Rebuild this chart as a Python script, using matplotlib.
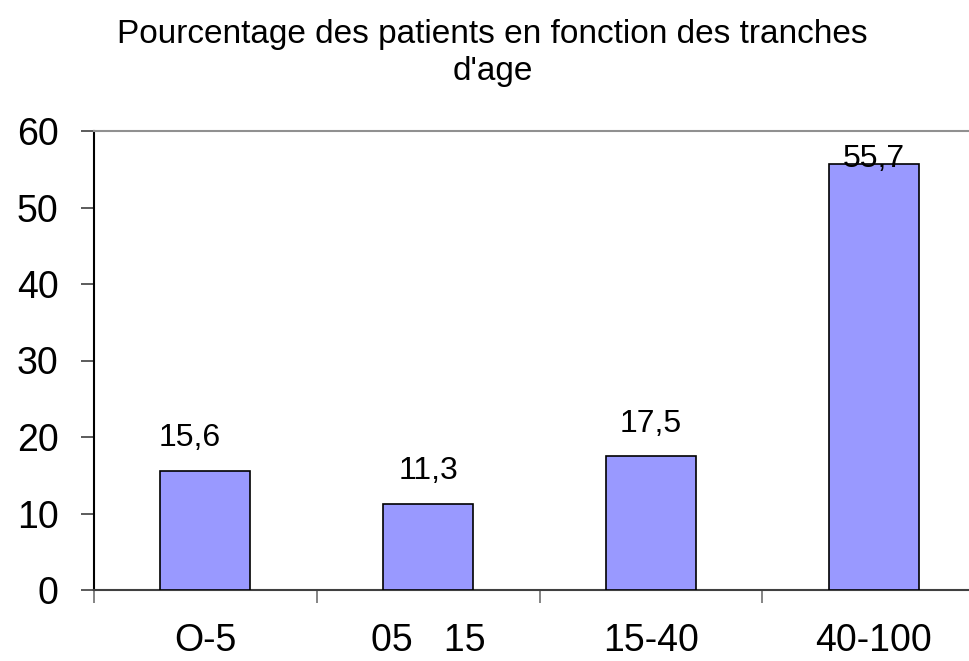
import matplotlib
matplotlib.use("Agg")
import matplotlib.pyplot as plt
import numpy as np

categories = ["O-5", "05   15", "15-40", "40-100"]
values = [15.6, 11.3, 17.5, 55.7]
value_labels = ["15,6", "11,3", "17,5", "55,7"]
yticks = [0, 10, 20, 30, 40, 50, 60]
title = "Pourcentage des patients en fonction des tranches\nd'age"

plt.rcParams['font.family'] = ['Liberation Sans', 'DejaVu Sans']

fig = plt.figure(figsize=(9.69, 6.61), dpi=100)
ax = fig.add_axes([94/969, 71/661, 891/969, 459/661])

x = np.arange(len(categories))
bars = ax.bar(x, values, width=0.405, color="#9999FF", edgecolor="black", linewidth=1.2, zorder=3)

ax.set_xlim(-0.5, len(categories) - 0.5)
ax.set_ylim(0, 60)
ax.set_yticks(yticks)
ax.set_yticklabels([str(t) for t in yticks])

ax.set_xticks(x)
ax.set_xticklabels(categories)
ax.set_xticks(np.arange(len(categories) + 1) - 0.5, minor=True)

ax.tick_params(axis="x", which="major", length=0, pad=24, labelsize=27)
ax.tick_params(axis="x", which="minor", length=9.5, width=1.2, color="#707070", direction="out")
ax.tick_params(axis="y", which="major", length=9.6, width=1.2, color="#404040", direction="out", pad=16, labelsize=27)

ax.spines["right"].set_visible(False)
ax.spines["top"].set_color("#909090")
ax.spines["top"].set_linewidth(1.5)
ax.spines["left"].set_color("black")
ax.spines["left"].set_linewidth(1.5)
ax.spines["bottom"].set_color("#404040")
ax.spines["bottom"].set_linewidth(1.5)

offsets = [(-11, 12.5), (0, 12.5), (0, 12.5), (0, -7)]
for xi, v, lab, off in zip(x, values, value_labels, offsets):
    ax.annotate(lab, xy=(xi, v), xytext=off, textcoords="offset points",
                ha="center", va="bottom", fontsize=23, zorder=4, annotation_clip=False)

fig.text(492.5/969, 1 - 19/661, title, ha="center", va="top", fontsize=24, linespacing=1.25)

fig.savefig("out.png", dpi=100)
